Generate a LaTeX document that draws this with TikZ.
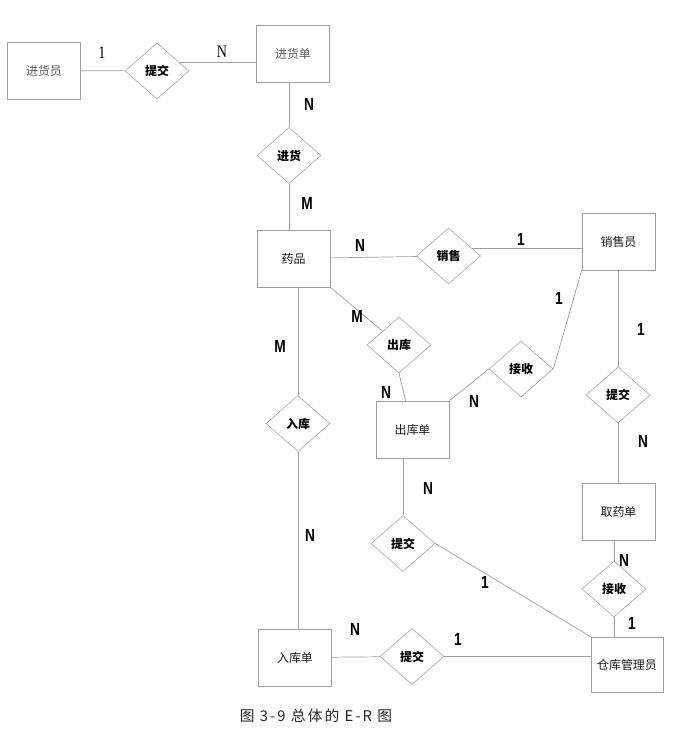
\documentclass[tikz,border=0pt]{standalone}
\usepackage{fontspec}
\newfontfamily\cjk{Noto Sans CJK SC}
\newfontfamily\cardfont[FakeStretch=0.78]{Liberation Sans}
\newfontfamily\cardserif[FakeStretch=0.8]{Liberation Serif}
\newfontfamily\capfont[LetterSpace=14]{Noto Sans CJK SC}
\usetikzlibrary{shapes.geometric}

\begin{document}
\begin{tikzpicture}[x=0.025cm, y=-0.025cm,
    entity/.style={draw=gray!75, minimum width=1.825cm, minimum height=1.425cm, inner sep=0pt, font=\cjk\fontsize{8.5}{10}\selectfont, text=black!90},
    relation/.style={diamond, draw=gray!75, minimum width=1.6cm, minimum height=1.4cm, inner sep=0pt, font=\cjk\bfseries\fontsize{8.5}{10}\selectfont},
    card/.style={font=\cardfont\bfseries\fontsize{12.5}{14}\selectfont, inner sep=0pt},
    link/.style={gray!75, line width=0.5pt}]
    \useasboundingbox (0,0) rectangle (673,731);
    \node[entity, text=black!65] (E1) at (44,70.5) {进货员};
    \node[entity, text=black!65] (E2) at (293,53.5) {进货单};
    \node[entity] (E3) at (293.5,258.5) {药品};
    \node[entity] (E4) at (618.5,241.5) {销售员};
    \node[entity] (E5) at (412.5,429.5) {出库单};
    \node[entity] (E6) at (618.5,512) {取药单};
    \node[entity, minimum width=1.8cm, minimum height=1.375cm] (E7) at (627,664.5) {仓库管理员};
    \node[entity] (E8) at (295,657.5) {入库单};
    \node[relation] (R1) at (157,71) {提交};
    \node[relation] (R2) at (289,155.5) {进货};
    \node[relation] (R3) at (448.5,256) {销售};
    \node[relation] (R4) at (399,345) {出库};
    \node[relation] (R5) at (521,369) {接收};
    \node[relation] (R6) at (618,395) {提交};
    \node[relation] (R7) at (298,423.5) {入库};
    \node[relation] (R8) at (403,543.5) {提交};
    \node[relation] (R9) at (614,589) {接收};
    \node[relation] (R10) at (412,656.5) {提交};
    \draw[link] (E1) -- (R1);
    \draw[link] (R1.22.5) -- (R1.22.5 -| E2.west);
    \draw[link] (R2.north) -- (R2.north |- E2.south);
    \draw[link] (R2.south) -- (R2.south |- E3.north);
    \draw[link] (E3) -- (R3);
    \draw[link] (R3.19) -- (R3.19 -| E4.west);
    \draw[link] (E3.south east) -- (R4);
    \draw[link] (R4.south) -- (E5);
    \draw[link] (E5.north east) -- (R5.west);
    \draw[link] (R5.east) -- (E4.south west);
    \draw[link] (R6.north) -- (R6.north |- E4.south);
    \draw[link] (R6.south) -- (R6.south |- E6.north);
    \draw[link] (R9.north) -- (R9.north |- E6.south);
    \draw[link] (R9.south) -- (R9.south |- E7.north);
    \draw[link] (R7.north) -- (R7.north |- E3.south);
    \draw[link] (R7.south) -- (R7.south |- E8.north);
    \draw[link] (R8.north) -- (R8.north |- E5.south);
    \draw[link] (R8.east) -- (E7.north west);
    \draw[link] (E8) -- (R10);
    \draw[link] (R10.east) -- (R10.east -| E7.west);
    % cardinalities
    \node[card, font=\cardserif\fontsize{12.5}{14}\selectfont] (L1) at (102,53) {1};
    \node[card, font=\cardserif\fontsize{12.5}{14}\selectfont] (L2) at (222,52) {N};
    \node[card] (L3) at (309,104) {N};
    \node[card] (L4) at (307,203) {M};
    \node[card] (L5) at (360,245) {N};
    \node[card] (L6) at (521,239) {1};
    \node[card] (L7) at (559,298) {1};
    \node[card] (L8) at (357,316) {M};
    \node[card] (L9) at (641,329) {1};
    \node[card] (L10) at (280,346) {M};
    \node[card] (L11) at (386,392) {N};
    \node[card] (L12) at (474,401) {N};
    \node[card] (L13) at (643,441) {N};
    \node[card] (L14) at (428,488) {N};
    \node[card] (L15) at (310,535) {N};
    \node[card] (L16) at (624,560) {N};
    \node[card] (L17) at (485,582) {1};
    \node[card] (L18) at (355,629) {N};
    \node[card] (L19) at (458,639) {1};
    \node[card] (L20) at (632,623) {1};
    \node[font=\capfont\fontsize{10.5}{12}\selectfont, text=black!85] (T) at (316,716) {图 3-9 总体的 E-R 图};
\end{tikzpicture}
\end{document}
